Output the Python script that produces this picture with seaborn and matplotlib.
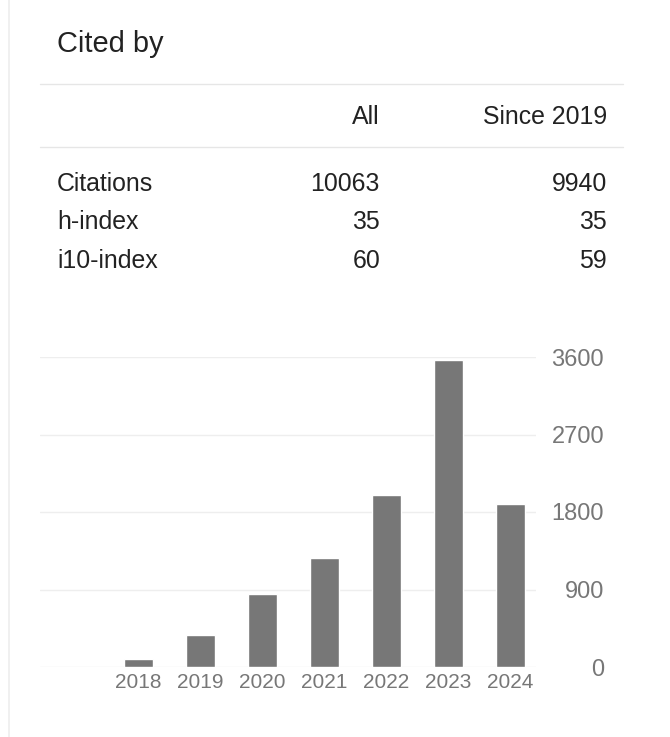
import matplotlib.pyplot as plt
import seaborn as sns
from matplotlib.lines import Line2D

# Citation data
years = ["2018", "2019", "2020", "2021", "2022", "2023", "2024"]
citations = [97, 370, 850, 1270, 2000, 3560, 1890]
y_ticks = [0, 900, 1800, 2700, 3600]

# Summary table
row_labels = ["Citations", "h-index", "i10-index"]
all_values = ["10063", "35", "60"]
since_values = ["9940", "35", "59"]
col_headers = ["All", "Since 2019"]

sns.set_theme(style="white")
plt.rcParams["font.family"] = ["Liberation Sans", "DejaVu Sans"]

W, H = 670, 737
fig = plt.figure(figsize=(W / 100, H / 100), dpi=100)


def fx(px):
    return px / W


def fy(py):
    return 1 - py / H


# left border of the panel
fig.add_artist(Line2D([fx(9), fx(9)], [0, 1], color="#eeeeee", lw=1.2))

# header
fig.text(fx(57), fy(52), "Cited by", fontsize=20.9, color="#222222", va="baseline")
for y in (84, 147):
    fig.add_artist(Line2D([fx(40), fx(623)], [fy(y), fy(y)], color="#e6e6e6", lw=1))
fs = 17.9
fig.text(fx(380), fy(124), col_headers[0], fontsize=fs, color="#222222",
         ha="right", va="baseline")
fig.text(fx(607), fy(124), col_headers[1], fontsize=fs, color="#222222",
         ha="right", va="baseline")

row_y = [191, 229, 268]
for lab, a, s, y in zip(row_labels, all_values, since_values, row_y):
    fig.text(fx(57), fy(y), lab, fontsize=fs, color="#222222", va="baseline")
    fig.text(fx(380), fy(y), a, fontsize=fs, color="#222222", ha="right", va="baseline")
    fig.text(fx(607), fy(y), s, fontsize=fs, color="#222222", ha="right", va="baseline")

# bar chart
ax = fig.add_axes([fx(40), fy(667), fx(536) - fx(40), fy(357) - fy(667)])
sns.barplot(x=years, y=citations, color="#777777", saturation=1, width=0.47, ax=ax)
ax.set_xlim(-1.59, 6.41)
ax.set_ylim(0, 3600)
ax.set_yticks(y_ticks)
ax.yaxis.tick_right()
ax.grid(axis="y", color="#eeeeee", lw=1)
ax.set_axisbelow(True)
for sp in ax.spines.values():
    sp.set_visible(False)
ax.tick_params(axis="y", length=0, pad=49, labelsize=17, labelcolor="#777777")
ax.tick_params(axis="x", length=0, pad=4, labelsize=15, labelcolor="#777777")
for t in ax.get_yticklabels():
    t.set_ha("right")
ax.set_xlabel("")
ax.set_ylabel("")

fig.savefig("out.png", dpi=100)
